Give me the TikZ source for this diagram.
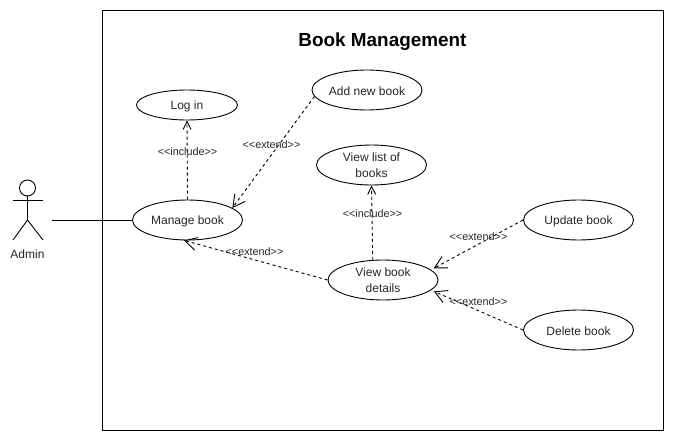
\documentclass[tikz,border=0pt]{standalone}
\usepackage{fontspec}
\setmainfont{Liberation Sans}
\usetikzlibrary{arrows.meta,shapes.geometric}
\newcommand{\stereotype}[1]{<\kern0pt<#1>\kern0pt>}
\tikzset{
  usecase/.style={draw,ellipse,inner sep=0pt,minimum width=110pt,minimum height=40pt,align=center,font=\fontsize{12}{15.5}\selectfont,text=black!85},
  singlecase/.style={usecase,text height=10.7pt},
  relation/.style={font=\fontsize{10.8}{12}\selectfont,text=black!85,inner sep=0pt},
  includearrow/.style={dashed,dash pattern=on 3pt off 3pt,-{Straight Barb[length=8pt,width=8pt]}},
  extendarrow/.style={dashed,dash pattern=on 3pt off 3pt,-{Straight Barb[length=12pt,width=13pt]}}
}
\begin{document}
\begin{tikzpicture}[x=1pt,y=-1pt,line width=0.9pt]
        \useasboundingbox (0,0) rectangle (674,441);

        % System boundary
        \node[draw,minimum width=561pt,minimum height=420pt,inner sep=0pt] (system) at (382.5,220.5) {};
        \node[font=\fontsize{18.9}{22}\selectfont\bfseries] (title) at (382.5,42) {Book Management};

        % Actor
        \node[draw,circle,minimum size=16pt,inner sep=0pt] (head) at (27.5,188) {};
        \coordinate (hip) at (27.5,220);
        \coordinate (armL) at (13,200);
        \coordinate (armR) at (43,200);
        \coordinate (footL) at (13,240);
        \coordinate (footR) at (43,240);
        \draw (head.south) -- (hip);
        \draw (armL) -- (armR);
        \draw (footL) -- (hip) -- (footR);
        \node[font=\fontsize{12}{15}\selectfont,text=black!85] (admin) at (27.5,254) {Admin};
        \coordinate (adminEnd) at (52,220);

        % Use cases
        \node[singlecase,minimum width=101pt,minimum height=30pt] (login) at (187,105) {Log in};
        \node[singlecase] (manage) at (187.5,220) {Manage book};
        \node[singlecase] (addbook) at (367,90) {Add new book};
        \node[usecase] (viewlist) at (371.5,165) {View list of\\books};
        \node[usecase] (details) at (383,280) {View book\\details};
        \node[singlecase] (update) at (578.5,220) {Update book};
        \node[singlecase] (delete) at (578.5,330) {Delete book};

        % Connectors
        \draw (adminEnd) -- (manage.west);
        \draw[includearrow] (manage.north) -- (login.south);
        \draw[includearrow] (details.117) -- (viewlist.south);
        \draw[extendarrow] (addbook.187) -- (manage.15);
        \draw[extendarrow] (details.west) -- (manage.260);
        \draw[extendarrow,shorten >=3pt] (update.west) -- (details.12);
        \draw[extendarrow,shorten >=3pt] (delete.west) -- (details.-12);

        % Labels
        \node[relation] (lblLogin) at (187.5,151.5) {\stereotype{include}};
        \node[relation] (lblAdd) at (271.5,144.5) {\stereotype{extend}};
        \node[relation] (lblList) at (372.5,213.5) {\stereotype{include}};
        \node[relation] (lblDetails) at (254.5,251.5) {\stereotype{extend}};
        \node[relation] (lblUpdate) at (478.5,236.5) {\stereotype{extend}};
        \node[relation] (lblDelete) at (478.5,301.5) {\stereotype{extend}};
\end{tikzpicture}
\end{document}
